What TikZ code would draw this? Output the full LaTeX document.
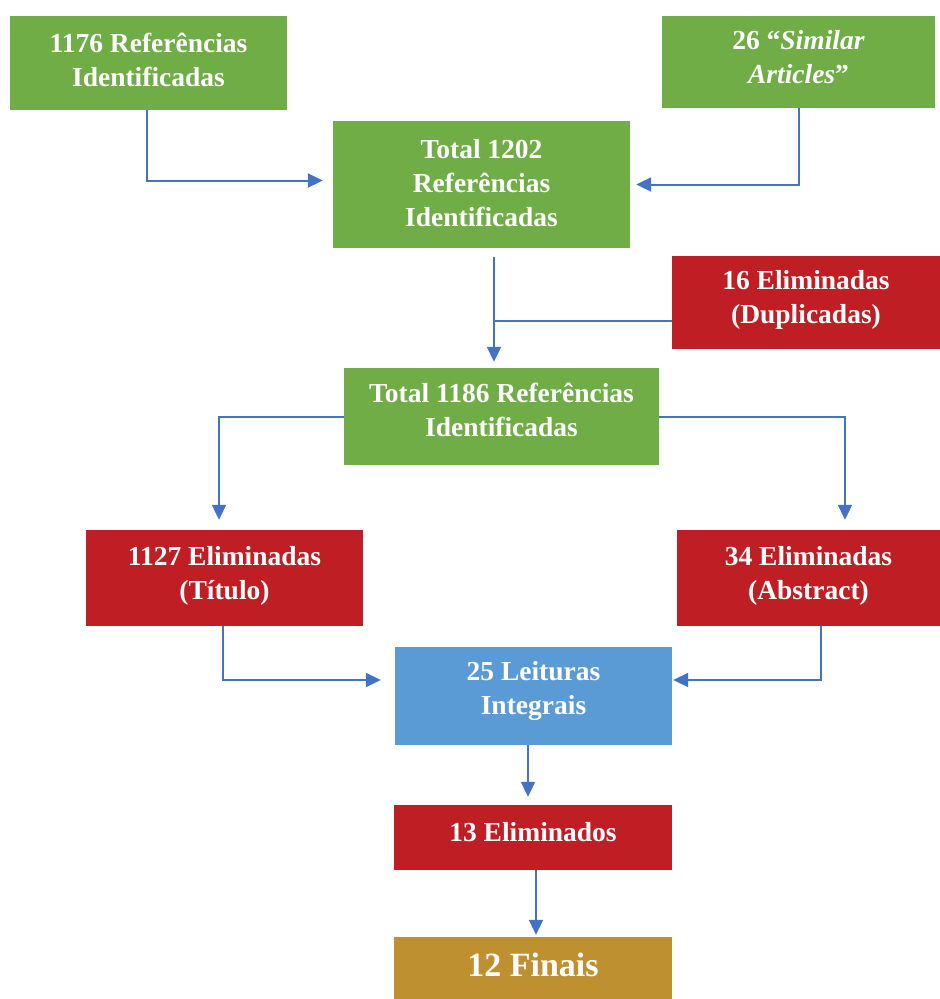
\documentclass[tikz,border=0pt]{standalone}
\usepackage{fontspec}
\setmainfont{Liberation Serif}
\usepackage{tikz}
\usetikzlibrary{arrows.meta}
\definecolor{flow-verde}{HTML}{70AD47}
\definecolor{flow-vermelho}{HTML}{BE1E24}
\definecolor{flow-azul}{HTML}{5B9BD5}
\definecolor{flow-ouro}{HTML}{BF9030}
\definecolor{flow-seta}{HTML}{4472C4}

\begin{document}
\begin{tikzpicture}[x=1pt, y=-1pt,
    box/.style={rectangle, draw=none, inner sep=0pt, fill=#1},
    lbl/.style={anchor=base, inner sep=0pt, align=center, text=white,
      font=\fontsize{27.5}{34}\selectfont\bfseries},
    conn/.style={line width=2pt, color=flow-seta},
    arr/.style={conn, -{Triangle[length=15pt, width=14pt]}}]
    % frame
    \useasboundingbox (0,0) rectangle (940,999);

    % sources (label sits on the baseline of its last line)
    \node[box=flow-verde, minimum width=277, minimum height=94] (refs) at (148.5,63) {};
    \node[lbl] (refs-txt) at ([yshift=-71pt]refs.north) {1176 Referências\\Identificadas};
    \node[box=flow-verde, minimum width=273, minimum height=92] (similar) at (798.5,62) {};
    \node[lbl] (similar-txt) at ([yshift=-68pt]similar.north) {26 “\textit{Similar}\\\textit{Articles}”};

    % first total
    \node[box=flow-verde, minimum width=297, minimum height=127] (total1202) at (481.5,184.5) {};
    \node[lbl] (total1202-txt) at ([yshift=-106pt]total1202.north) {Total 1202\\Referências\\Identificadas};

    % duplicates
    \node[box=flow-vermelho, minimum width=268, minimum height=93] (dup) at (806,302.5) {};
    \node[lbl] (dup-txt) at ([yshift=-68pt]dup.north) {16 Eliminadas\\(Duplicadas)};

    % second total
    \node[box=flow-verde, minimum width=315, minimum height=97] (total1186) at (501.5,416.5) {};
    \node[lbl] (total1186-txt) at ([yshift=-69pt]total1186.north) {Total 1186 Referências\\Identificadas};

    % screening
    \node[box=flow-vermelho, minimum width=277, minimum height=96] (titulo) at (224.5,578) {};
    \node[lbl] (titulo-txt) at ([yshift=-70pt]titulo.north) {1127 Eliminadas\\(Título)};
    \node[box=flow-vermelho, minimum width=263, minimum height=96] (abstract) at (808.5,578) {};
    \node[lbl] (abstract-txt) at ([yshift=-70pt]abstract.north) {34 Eliminadas\\(Abstract)};

    % full reading
    \node[box=flow-azul, minimum width=277, minimum height=98] (leituras) at (533.5,696) {};
    \node[lbl] (leituras-txt) at ([yshift=-68pt]leituras.north) {25 Leituras\\Integrais};
    \node[box=flow-vermelho, minimum width=278, minimum height=65] (elim13) at (533,837.5) {};
    \node[lbl] (elim13-txt) at ([yshift=-37pt]elim13.north) {13 Eliminados};
    \node[box=flow-ouro, minimum width=278, minimum height=62] (finais) at (533,968) {};
    \node[lbl, font=\fontsize{34}{40}\selectfont\bfseries] (finais-txt) at ([yshift=-40pt]finais.north) {12 Finais};

    % connectors
    \draw[arr] ([xshift=-1.5pt]refs.south) |- ([xshift=-10pt,yshift=4pt]total1202.west);
    \draw[arr] (similar.south) |- ([xshift=6pt]total1202.east);
    \coordinate (jn) at ([xshift=12.5pt,yshift=-9pt]total1202.south);
    \draw[arr] (jn) -- ([xshift=-7.5pt,yshift=6pt]total1186.north);
    \draw[conn] ([yshift=-18.5pt]dup.west) -- ([yshift=-18.5pt]dup.west -| jn);
    \draw[arr] (total1186.west) -| ([xshift=-5.5pt,yshift=10pt]titulo.north);
    \draw[arr] (total1186.east) -| ([xshift=36.5pt,yshift=10pt]abstract.north);
    \draw[arr] ([xshift=-1.5pt]titulo.south) |- ([xshift=-14pt,yshift=16pt]leituras.west);
    \draw[arr] ([xshift=12.5pt]abstract.south) |- ([xshift=1pt,yshift=16pt]leituras.east);
    \draw[arr] ([xshift=-5.5pt]leituras.south) -- ([xshift=-5pt,yshift=8pt]elim13.north);
    \draw[arr] ([xshift=3pt]elim13.south) -- ([xshift=3pt,yshift=2pt]finais.north);

\end{tikzpicture}
\end{document}
